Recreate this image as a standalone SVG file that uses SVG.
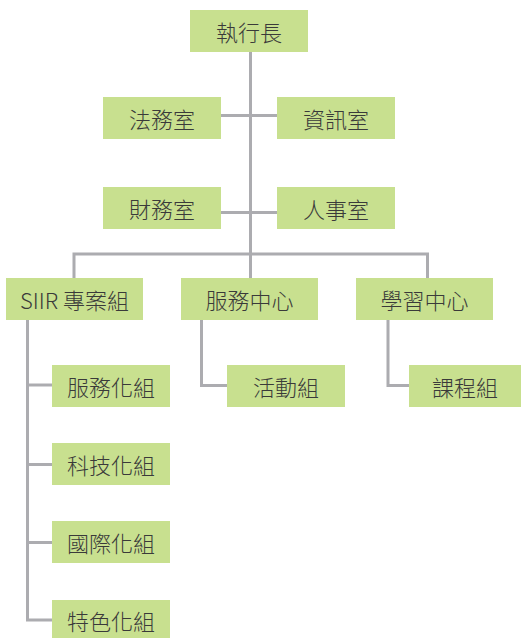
<svg xmlns="http://www.w3.org/2000/svg" width="521" height="638" viewBox="0 0 521 638">
<style>
.box{fill:#c8e08f}
.lbl{font-family:"Noto Sans CJK TC","Noto Sans",sans-serif;font-size:22px;font-weight:300;fill:#3a3a3a;text-anchor:middle;dominant-baseline:central}
.ln{fill:none;stroke:#acacb0;stroke-width:3}
</style>
<rect width="521" height="638" fill="#ffffff"/>
<g id="connectors">
<path class="ln" d="M250.5,52 V254"/>
<path class="ln" d="M221,115.5 H277"/>
<path class="ln" d="M221,212.5 H277"/>
<path class="ln" d="M74,278 V254 H427.5 V278"/>
<path class="ln" d="M250.5,254 V278"/>
<path class="ln" d="M27.5,320 V620 H52"/>
<path class="ln" d="M27.5,385 H52"/>
<path class="ln" d="M27.5,464.5 H52"/>
<path class="ln" d="M27.5,542.5 H52"/>
<path class="ln" d="M201.5,320 V385.5 H227"/>
<path class="ln" d="M388,320 V385.5 H409"/>
</g>
<g id="n-ceo"><rect class="box" x="190" y="10" width="118" height="42"/><text class="lbl" x="249" y="31">執行長</text></g>
<g id="n-legal"><rect class="box" x="103" y="97" width="118" height="42"/><text class="lbl" x="162" y="118">法務室</text></g>
<g id="n-it"><rect class="box" x="277" y="97" width="118" height="42"/><text class="lbl" x="336" y="118">資訊室</text></g>
<g id="n-finance"><rect class="box" x="103" y="187" width="118" height="42"/><text class="lbl" x="162" y="208">財務室</text></g>
<g id="n-hr"><rect class="box" x="277" y="187" width="118" height="42"/><text class="lbl" x="336" y="208">人事室</text></g>
<g id="n-siir"><rect class="box" x="6" y="278" width="137" height="42"/><text class="lbl" x="74.5" y="299">SIIR 專案組</text></g>
<g id="n-service"><rect class="box" x="181" y="278" width="137" height="42"/><text class="lbl" x="249.5" y="299">服務中心</text></g>
<g id="n-learning"><rect class="box" x="356" y="278" width="137" height="42"/><text class="lbl" x="424.5" y="299">學習中心</text></g>
<g id="n-svc-group"><rect class="box" x="52" y="365" width="118" height="42"/><text class="lbl" x="111" y="386">服務化組</text></g>
<g id="n-tech-group"><rect class="box" x="52" y="443" width="118" height="42"/><text class="lbl" x="111" y="464">科技化組</text></g>
<g id="n-intl-group"><rect class="box" x="52" y="521" width="118" height="42"/><text class="lbl" x="111" y="542">國際化組</text></g>
<g id="n-feature-group"><rect class="box" x="52" y="600" width="118" height="38"/><text class="lbl" x="111" y="620">特色化組</text></g>
<g id="n-activity"><rect class="box" x="227" y="365" width="118" height="42"/><text class="lbl" x="286" y="386">活動組</text></g>
<g id="n-course"><rect class="box" x="409" y="365" width="112" height="42"/><text class="lbl" x="465" y="386">課程組</text></g>
</svg>
